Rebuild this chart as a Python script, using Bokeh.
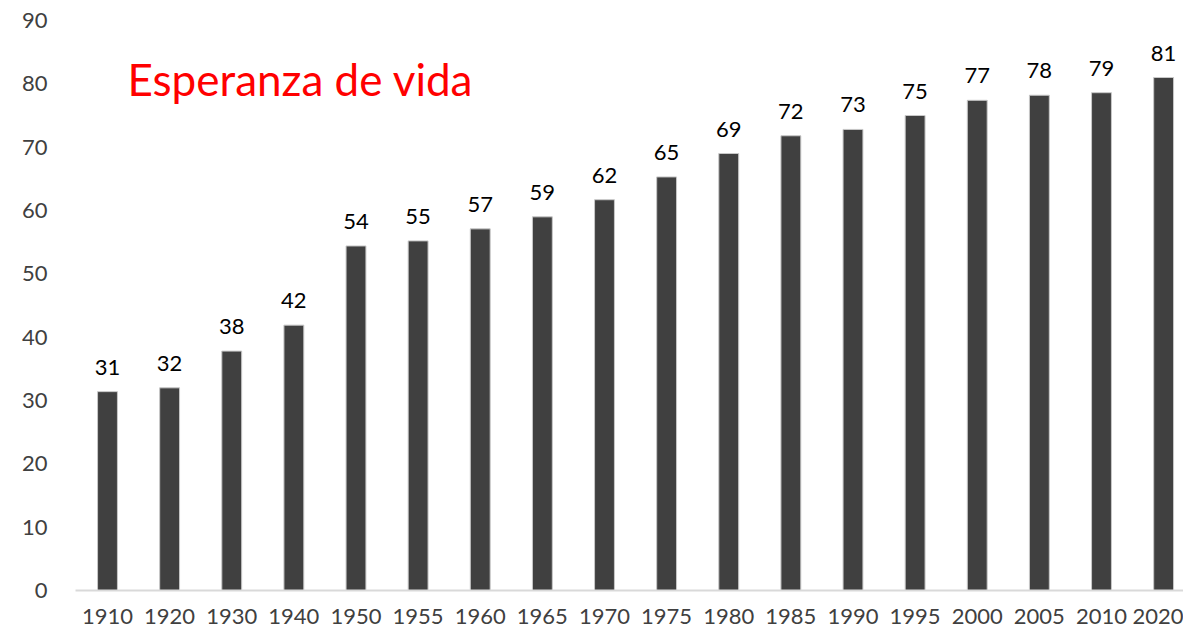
from bokeh.plotting import figure
from bokeh.models import ColumnDataSource, Range1d, Label, FixedTicker
from bokeh.embed import file_html
from bokeh.resources import INLINE
from bokeh.core.properties import value

years = ["1910", "1920", "1930", "1940", "1950", "1955", "1960", "1965", "1970",
         "1975", "1980", "1985", "1990", "1995", "2000", "2005", "2010", "2020"]
life = [31.4, 32.0, 37.8, 41.9, 54.4, 55.2, 57.1, 59.0, 61.7,
        65.3, 69.0, 71.8, 72.8, 75.0, 77.4, 78.2, 78.6, 81.0]
labels = ["31", "32", "38", "42", "54", "55", "57", "59", "62",
          "65", "69", "72", "73", "75", "77", "78", "79", "81"]
title_text = "Esperanza de vida"

FONT = "Lato"

idx = list(range(len(years)))
src = ColumnDataSource(dict(x=idx, top=life, lab=labels))

p = figure(width=1183, height=627, x_range=Range1d(-0.515, 17.32), y_range=Range1d(0, 90),
           output_backend="svg", toolbar_location=None,
           min_border_left=75, min_border_right=0, min_border_top=20, min_border_bottom=37)
p.outline_line_color = None
p.background_fill_color = "white"
p.border_fill_color = "white"

p.vbar(x="x", top="top", width=0.32, source=src, fill_color="#404040",
       line_color="#c8c8c8", line_width=1)

p.text(x="x", y="top", text="lab", source=src, text_align="center",
       text_baseline="bottom", y_offset=-17, text_font=value(FONT),
       text_font_size="22px", text_color="black")

p.xgrid.visible = False
p.ygrid.visible = False

p.xaxis.ticker = FixedTicker(ticks=idx)
p.xaxis.major_label_overrides = {i: y for i, y in zip(idx, years)}
p.xaxis.axis_line_color = "#d9d9d9"
p.xaxis.axis_line_width = 2
p.xaxis.major_tick_line_color = None
p.xaxis.minor_tick_line_color = None
p.xaxis.major_label_text_font = FONT
p.xaxis.major_label_text_font_size = "22px"
p.xaxis.major_label_text_color = "#404040"
p.xaxis.major_label_standoff = 12

p.yaxis.axis_line_color = None
p.yaxis.major_tick_line_color = None
p.yaxis.minor_tick_line_color = None
p.yaxis.ticker = FixedTicker(ticks=list(range(0, 91, 10)))
p.yaxis.major_label_text_font = FONT
p.yaxis.major_label_text_font_size = "22px"
p.yaxis.major_label_text_color = "#404040"
p.yaxis.major_label_standoff = 22

p.add_layout(Label(x=52, y=512, x_units="screen", y_units="screen",
                   text=title_text, text_font=FONT, text_font_size="44px",
                   text_color="red", text_baseline="middle"))

open("out.html", "w").write(file_html(p, INLINE))
